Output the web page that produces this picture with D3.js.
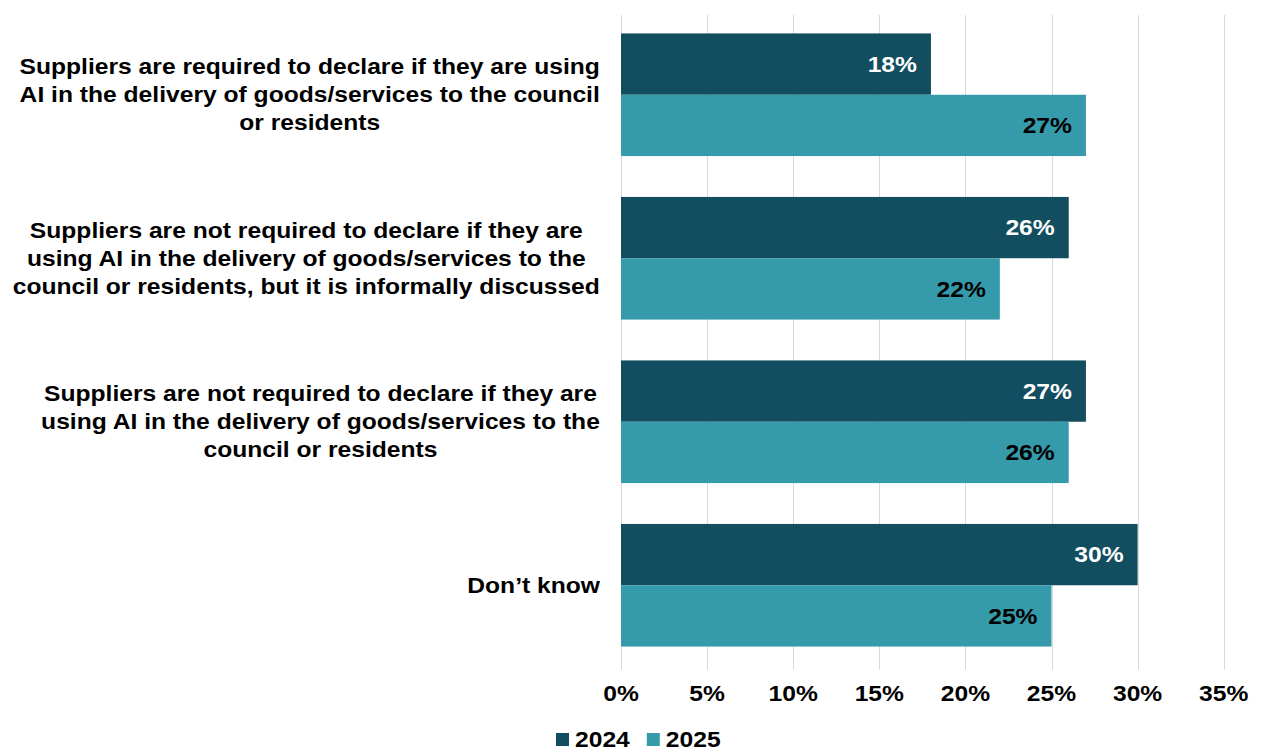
<!DOCTYPE html>
<meta charset="utf-8">
<style>
body {
    margin: 0px;
    background: white;
    font-family: "Liberation Sans", Arial, sans-serif;
}
.cat-label, .tick-label, .bar-label, .legend-label {
    font-weight: 700;
    font-size: 22px;
    fill: black;
}
</style>
<body>
<script src="https://d3js.org/d3.v7.min.js"></script>
<script>
var width = 1263,
    height = 751,
    stretch = 1.12  // the source font is a bit wider than Liberation Sans

// Data
var categories = [
    ["Suppliers are required to declare if they are using", "AI in the delivery of goods/services to the council", "or residents"],
    ["Suppliers are not required to declare if they are", "using AI in the delivery of goods/services to the", "council or residents, but it is informally discussed"],
    ["Suppliers are not required to declare if they are", "using AI in the delivery of goods/services to the", "council or residents"],
    ["Don\u2019t know"]
]
var years = ["2024", "2025"]
var values2024 = [18, 26, 27, 30]
var values2025 = [27, 22, 26, 25]
var ticks = [0, 5, 10, 15, 20, 25, 30, 35]
var colors = ["#124d60", "#359baa"]
var labelColors = ["white", "black"]

var svg = d3.select("body").append("svg")
    .attr("width", width)
    .attr("height", height)

function place(x, y) {
    return "translate(" + x + "," + y + ") scale(" + stretch + ",1)"
}

var x = d3.scaleLinear()
    .domain([0, 35])
    .range([621, 1223.7])

var y = d3.scaleBand()
    .domain(d3.range(categories.length))
    .range([13, 667])
    .paddingInner(0.25)
    .paddingOuter(0.125)

var ySub = d3.scaleBand()
    .domain(years)
    .range([0, y.bandwidth()])

// Gridlines
svg.append("g")
    .selectAll("line")
    .data(ticks)
    .enter()
    .append("line")
    .attr("x1", function(d) { return Math.round(x(d)) + 0.5 })
    .attr("x2", function(d) { return Math.round(x(d)) + 0.5 })
    .attr("y1", 15)
    .attr("y2", 670)
    .attr("stroke", "#d9d9d9")
    .attr("stroke-width", 1)

// Tick labels
svg.append("g")
    .selectAll("text")
    .data(ticks)
    .enter()
    .append("text")
    .attr("class", "tick-label")
    .attr("transform", function(d) { return place(x(d), 693) })
    .attr("dy", "0.35em")
    .attr("text-anchor", "middle")
    .text(function(d) { return d + "%" })

// Bars
var series = [values2024, values2025]
series.forEach(function(vals, s) {
    var g = svg.append("g")
    g.selectAll("rect")
        .data(vals)
        .enter()
        .append("rect")
        .attr("x", x(0))
        .attr("y", function(d, i) { return y(i) + ySub(years[s]) })
        .attr("width", function(d) { return x(d) - x(0) })
        .attr("height", ySub.bandwidth())
        .attr("fill", colors[s])

    g.selectAll("text")
        .data(vals)
        .enter()
        .append("text")
        .attr("class", "bar-label")
        .attr("transform", function(d, i) {
            return place(x(d) - 14, y(i) + ySub(years[s]) + ySub.bandwidth() / 2)
        })
        .attr("dy", "0.35em")
        .attr("text-anchor", "end")
        .style("fill", labelColors[s])
        .text(function(d) { return d + "%" })
})

// Category labels, centred block, right edge at 600
var lineH = 28
categories.forEach(function(lines, i) {
    var cy = y(i) + y.bandwidth() / 2
    var t = svg.append("text")
        .attr("class", "cat-label")
        .attr("text-anchor", "middle")
    lines.forEach(function(l, j) {
        t.append("tspan")
            .attr("x", 0)
            .attr("dy", j === 0 ? "0.35em" : lineH)
            .text(l)
    })
    var maxW = 0
    t.selectAll("tspan").each(function() {
        maxW = Math.max(maxW, this.getComputedTextLength())
    })
    var cx = 600 - maxW * stretch / 2
    var y0 = cy - (lines.length - 1) * lineH / 2
    t.attr("transform", place(cx, y0))
})

// Legend
var legend = svg.append("g")
    .attr("transform", "translate(556,739.5)")
var lx = 0
years.forEach(function(yr, i) {
    legend.append("rect")
        .attr("x", lx)
        .attr("y", -6.5)
        .attr("width", 13)
        .attr("height", 13)
        .attr("fill", colors[i])
    var txt = legend.append("text")
        .attr("class", "legend-label")
        .attr("transform", place(lx + 19, 0))
        .attr("dy", "0.35em")
        .text(yr)
    lx += 19 + txt.node().getComputedTextLength() * stretch + 17
})
</script>
</body>
